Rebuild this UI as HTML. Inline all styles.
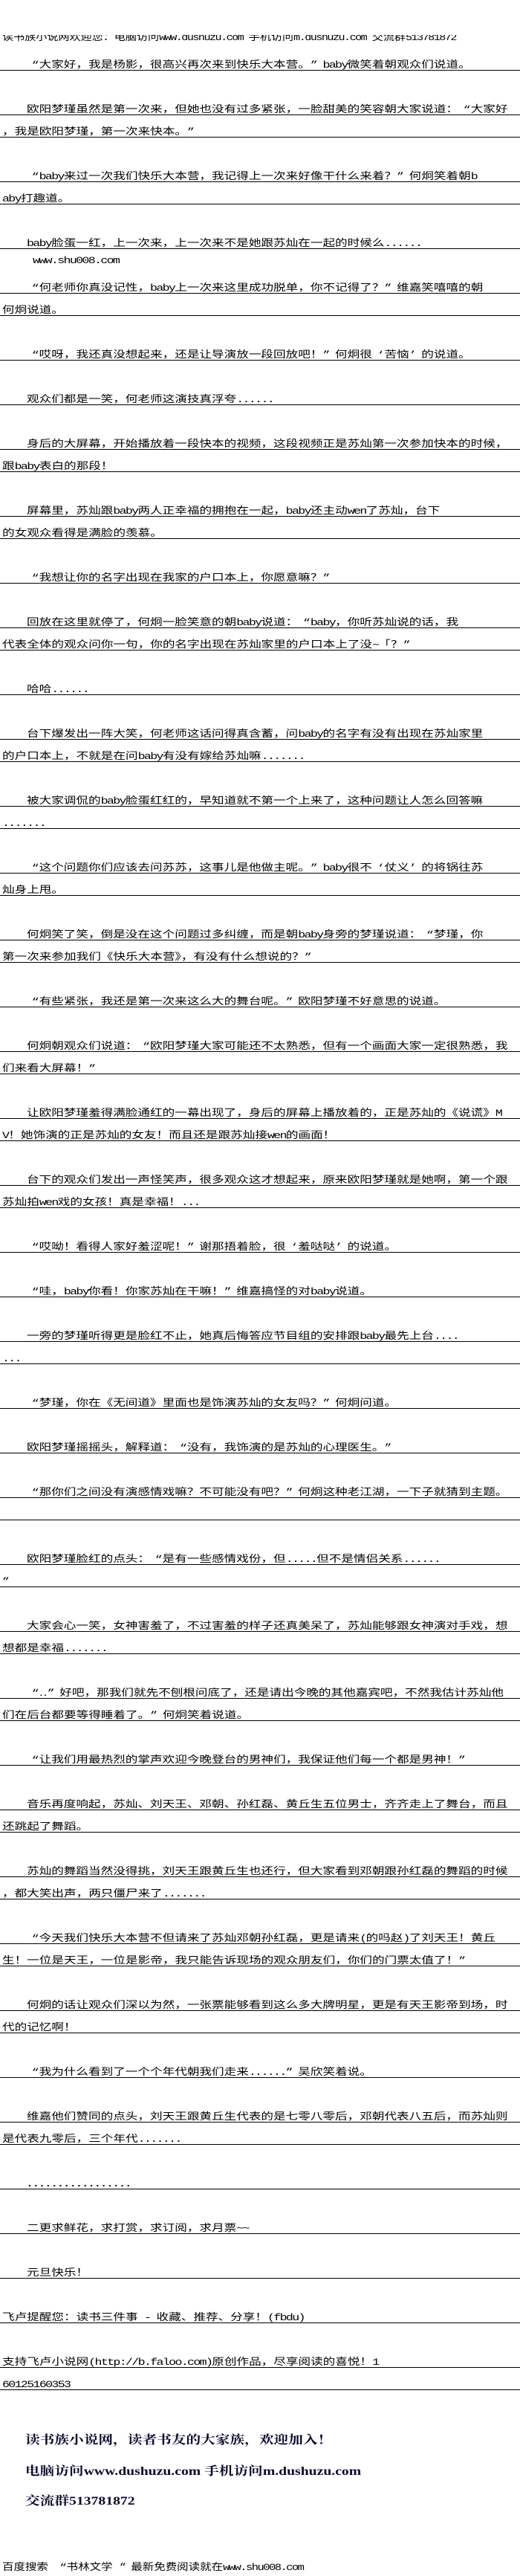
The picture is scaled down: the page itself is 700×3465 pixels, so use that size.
<!DOCTYPE html>
<html>
<head>
<meta charset="utf-8">
<style>
html,body{margin:0;padding:0;background:#fff;}
body{width:700px;height:3465px;position:relative;overflow:hidden;}
.l{position:absolute;left:0;width:700px;height:29px;border-bottom:1px solid #000;}
.l span,.t span{position:absolute;left:3px;bottom:0;font-family:"Liberation Mono","WenQuanYi Zen Hei",monospace;font-size:13px;line-height:13px;white-space:nowrap;color:#000;transform:scaleX(1.277);transform-origin:0 100%;}
.l.n span{left:36px;}
i{font-style:normal;letter-spacing:-1.3px;}
b{font-weight:normal;display:inline-block;width:13px;text-align:right;}
u{text-decoration:none;display:inline-block;width:13px;text-align:left;}
.t{position:absolute;left:0;width:700px;}
.ft{position:absolute;font-family:"Liberation Serif","Noto Serif CJK SC",serif;font-size:16px;line-height:18px;font-weight:bold;color:#0a0a30;white-space:nowrap;transform:scaleX(1.23);transform-origin:0 0;left:34px;}
</style>
</head>
<body>

<div class="t" style="top:47px;height:10px;overflow:hidden;"><span style="transform:scaleX(1.16);left:3px;bottom:0;">读书族小说网欢迎您：电脑访问<i>www.dushuzu.com </i>手机访问<i>m.dushuzu.com </i>交流群<i>513781872</i></span></div>

<div class="l n" style="top:65px"><span><b>“</b>大家好，我是杨影，很高兴再次来到快乐大本营。<u>”</u><i>baby</i>微笑着朝观众们说道。</span></div>
<div class="l n" style="top:125px"><span>欧阳梦瑾虽然是第一次来，但她也没有过多紧张，一脸甜美的笑容朝大家说道：<b>“</b>大家好</span></div>
<div class="l" style="top:155px"><span>，我是欧阳梦瑾，第一次来快本。<u>”</u></span></div>
<div class="l n" style="top:215px"><span><b>“</b><i>baby</i>来过一次我们快乐大本营，我记得上一次来好像干什么来着？<u>”</u>何炯笑着朝<i>b</i></span></div>
<div class="l" style="top:245px"><span><i>aby</i>打趣道。</span></div>
<div class="l n" style="top:305px"><span><i>baby</i>脸蛋一红，上一次来，上一次来不是她跟苏灿在一起的时候么<i>......</i></span></div>
<div class="t" style="top:343px;height:14px;"><span style="left:44px;"><i>www.shu008.com</i></span></div>
<div class="l n" style="top:365px"><span><b>“</b>何老师你真没记性，<i>baby</i>上一次来这里成功脱单，你不记得了？<u>”</u>维嘉笑嘻嘻的朝</span></div>
<div class="l" style="top:395px"><span>何炯说道。</span></div>
<div class="l n" style="top:455px"><span><b>“</b>哎呀，我还真没想起来，还是让导演放一段回放吧！<u>”</u>何炯很<b>‘</b>苦恼<u>’</u>的说道。</span></div>
<div class="l n" style="top:515px"><span>观众们都是一笑，何老师这演技真浮夸<i>......</i></span></div>
<div class="l n" style="top:575px"><span>身后的大屏幕，开始播放着一段快本的视频，这段视频正是苏灿第一次参加快本的时候，</span></div>
<div class="l" style="top:605px"><span>跟<i>baby</i>表白的那段！</span></div>
<div class="l n" style="top:665px"><span>屏幕里，苏灿跟<i>baby</i>两人正幸福的拥抱在一起，<i>baby</i>还主动<i>wen</i>了苏灿，台下</span></div>
<div class="l" style="top:695px"><span>的女观众看得是满脸的羡慕。</span></div>
<div class="l n" style="top:755px"><span><b>“</b>我想让你的名字出现在我家的户口本上，你愿意嘛？<u>”</u></span></div>
<div class="l n" style="top:815px"><span>回放在这里就停了，何炯一脸笑意的朝<i>baby</i>说道：<b>“</b><i>baby</i>，你听苏灿说的话，我</span></div>
<div class="l" style="top:845px"><span>代表全体的观众问你一句，你的名字出现在苏灿家里的户口本上了没<i>~</i>「？<u>”</u></span></div>
<div class="l n" style="top:905px"><span>哈哈<i>......</i></span></div>
<div class="l n" style="top:965px"><span>台下爆发出一阵大笑，何老师这话问得真含蓄，问<i>baby</i>的名字有没有出现在苏灿家里</span></div>
<div class="l" style="top:995px"><span>的户口本上，不就是在问<i>baby</i>有没有嫁给苏灿嘛<i>.......</i></span></div>
<div class="l n" style="top:1055px"><span>被大家调侃的<i>baby</i>脸蛋红红的，早知道就不第一个上来了，这种问题让人怎么回答嘛</span></div>
<div class="l" style="top:1085px"><span><i>.......</i></span></div>
<div class="l n" style="top:1145px"><span><b>“</b>这个问题你们应该去问苏苏，这事儿是他做主呢。<u>”</u><i>baby</i>很不<b>‘</b>仗义<u>’</u>的将锅往苏</span></div>
<div class="l" style="top:1175px"><span>灿身上甩。</span></div>
<div class="l n" style="top:1235px"><span>何炯笑了笑，倒是没在这个问题过多纠缠，而是朝<i>baby</i>身旁的梦瑾说道：<b>“</b>梦瑾，你</span></div>
<div class="l" style="top:1265px"><span>第一次来参加我们《快乐大本营》，有没有什么想说的？<u>”</u></span></div>
<div class="l n" style="top:1325px"><span><b>“</b>有些紧张，我还是第一次来这么大的舞台呢。<u>”</u>欧阳梦瑾不好意思的说道。</span></div>
<div class="l n" style="top:1385px"><span>何炯朝观众们说道：<b>“</b>欧阳梦瑾大家可能还不太熟悉，但有一个画面大家一定很熟悉，我</span></div>
<div class="l" style="top:1415px"><span>们来看大屏幕！<u>”</u></span></div>
<div class="l n" style="top:1475px"><span>让欧阳梦瑾羞得满脸通红的一幕出现了，身后的屏幕上播放着的，正是苏灿的《说谎》<i>M</i></span></div>
<div class="l" style="top:1505px"><span><i>V</i>！她饰演的正是苏灿的女友！而且还是跟苏灿接<i>wen</i>的画面！</span></div>
<div class="l n" style="top:1565px"><span>台下的观众们发出一声怪笑声，很多观众这才想起来，原来欧阳梦瑾就是她啊，第一个跟</span></div>
<div class="l" style="top:1595px"><span>苏灿拍<i>wen</i>戏的女孩！真是幸福！<i>...</i></span></div>
<div class="l n" style="top:1655px"><span><b>“</b>哎呦！看得人家好羞涩呢！<u>”</u>谢那捂着脸，很<b>‘</b>羞哒哒<u>’</u>的说道。</span></div>
<div class="l n" style="top:1715px"><span><b>“</b>哇，<i>baby</i>你看！你家苏灿在干嘛！<u>”</u>维嘉搞怪的对<i>baby</i>说道。</span></div>
<div class="l n" style="top:1775px"><span>一旁的梦瑾听得更是脸红不止，她真后悔答应节目组的安排跟<i>baby</i>最先上台<i>....</i></span></div>
<div class="l" style="top:1805px"><span><i>...</i></span></div>
<div class="l n" style="top:1865px"><span><b>“</b>梦瑾，你在《无间道》里面也是饰演苏灿的女友吗？<u>”</u>何炯问道。</span></div>
<div class="l n" style="top:1925px"><span>欧阳梦瑾摇摇头，解释道：<b>“</b>没有，我饰演的是苏灿的心理医生。<u>”</u></span></div>
<div class="l n" style="top:1985px"><span><b>“</b>那你们之间没有演感情戏嘛？不可能没有吧？<u>”</u>何炯这种老江湖，一下子就猜到主题。</span></div>
<div class="l" style="top:2015px"></div>
<div class="l n" style="top:2075px"><span>欧阳梦瑾脸红的点头：<b>“</b>是有一些感情戏份，但<i>.....</i>但不是情侣关系<i>......</i></span></div>
<div class="l" style="top:2105px"><span><u>”</u></span></div>
<div class="l n" style="top:2165px"><span>大家会心一笑，女神害羞了，不过害羞的样子还真美呆了，苏灿能够跟女神演对手戏，想</span></div>
<div class="l" style="top:2195px"><span>想都是幸福<i>.......</i></span></div>
<div class="l n" style="top:2255px"><span><b>“</b>‥<u>”</u>好吧，那我们就先不刨根问底了，还是请出今晚的其他嘉宾吧，不然我估计苏灿他</span></div>
<div class="l" style="top:2285px"><span>们在后台都要等得睡着了。<u>”</u>何炯笑着说道。</span></div>
<div class="l n" style="top:2345px"><span><b>“</b>让我们用最热烈的掌声欢迎今晚登台的男神们，我保证他们每一个都是男神！<u>”</u></span></div>
<div class="l n" style="top:2405px"><span>音乐再度响起，苏灿、刘天王、邓朝、孙红磊、黄丘生五位男士，齐齐走上了舞台，而且</span></div>
<div class="l" style="top:2435px"><span>还跳起了舞蹈。</span></div>
<div class="l n" style="top:2495px"><span>苏灿的舞蹈当然没得挑，刘天王跟黄丘生也还行，但大家看到邓朝跟孙红磊的舞蹈的时候</span></div>
<div class="l" style="top:2525px"><span>，都大笑出声，两只僵尸来了<i>.......</i></span></div>
<div class="l n" style="top:2585px"><span><b>“</b>今天我们快乐大本营不但请来了苏灿邓朝孙红磊，更是请来<i>(</i>的吗赵<i>)</i>了刘天王！黄丘</span></div>
<div class="l" style="top:2615px"><span>生！一位是天王，一位是影帝，我只能告诉现场的观众朋友们，你们的门票太值了！<u>”</u></span></div>
<div class="l n" style="top:2675px"><span>何炯的话让观众们深以为然，一张票能够看到这么多大牌明星，更是有天王影帝到场，时</span></div>
<div class="l" style="top:2705px"><span>代的记忆啊！</span></div>
<div class="l n" style="top:2765px"><span><b>“</b>我为什么看到了一个个年代朝我们走来<i>......</i><u>”</u>吴欣笑着说。</span></div>
<div class="l n" style="top:2825px"><span>维嘉他们赞同的点头，刘天王跟黄丘生代表的是七零八零后，邓朝代表八五后，而苏灿则</span></div>
<div class="l" style="top:2855px"><span>是代表九零后，三个年代<i>.......</i></span></div>
<div class="l n" style="top:2915px"><span>．．．．．．．．．．．．．．．．．</span></div>
<div class="l n" style="top:2975px"><span>二更求鲜花，求打赏，求订阅，求月票<i>~~</i></span></div>
<div class="l n" style="top:3035px"><span>元旦快乐！</span></div>
<div class="l" style="top:3095px"><span>飞卢提醒您：读书三件事<i> - </i>收藏、推荐、分享！<i>(fbdu)</i></span></div>
<div class="l" style="top:3155px"><span>支持飞卢小说网<i>(http://b.faloo.com)</i>原创作品，尽享阅读的喜悦！<i>1</i></span></div>
<div class="l" style="top:3185px"><span><i>60125160353</i></span></div>

<div class="ft" style="top:3274px;">读书族小说网，读者书友的大家族，欢迎加入！</div>
<div class="ft" style="top:3316px;">电脑访问www.dushuzu.com 手机访问m.dushuzu.com</div>
<div class="ft" style="top:3356px;">交流群513781872</div>

<div class="t" style="top:3440px;height:20px;"><span style="transform:scaleX(1.19);left:3px;">百度搜索 <b>“</b>书林文学 <u>”</u>最新免费阅读就在<i>www.shu008.com</i></span></div>

</body>
</html>
